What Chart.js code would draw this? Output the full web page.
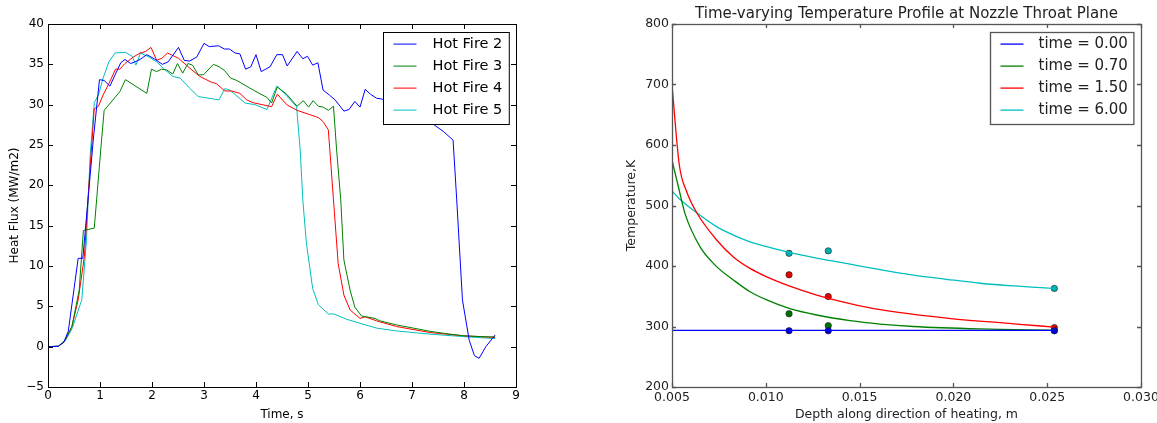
<!DOCTYPE html>
<html>
<head>
<meta charset="utf-8">
<script src="https://cdn.jsdelivr.net/npm/chart.js@4.4.1/dist/chart.umd.min.js"></script>
<style>
  html, body { margin: 0; padding: 0; background: #fff; }
  #wrap { position: relative; width: 1157px; height: 423px; overflow: hidden; }
  canvas { position: absolute; top: 0; }
  #fluxChart { left: 0; }
  #tempChart { left: 578px; }
</style>
</head>
<body>
<div id="wrap">
  <canvas id="fluxChart" width="578" height="423"></canvas>
  <canvas id="tempChart" width="579" height="423"></canvas>
</div>
<script>
// ---- left plot: heat flux of the hot fires ----
const fire2Time = [0, 0.2, 0.3, 0.39, 0.58, 0.67, 0.87, 0.99, 1.08, 1.19, 1.29, 1.40, 1.48, 1.59, 1.67, 1.77, 1.90, 2.04, 2.2, 2.31, 2.51, 2.62, 2.72, 2.86, 3.0, 3.1, 3.28, 3.39, 3.49, 3.6, 3.69, 3.8, 3.9, 4.0, 4.1, 4.27, 4.40, 4.51, 4.6, 4.79, 4.90, 4.99, 5.09, 5.19, 5.29, 5.41, 5.52, 5.69, 5.79, 5.90, 6.0, 6.1, 6.2, 6.32, 6.42, 7.38, 7.6, 7.79, 7.86, 7.97, 8.1, 8.2, 8.29, 8.42, 8.6];
const fire2Flux = [0, 0.05, 0.5, 1.9, 10.95, 10.95, 25.6, 33.1, 33.0, 32.3, 33.7, 35.2, 35.6, 35.1, 35.3, 35.6, 36.2, 35.7, 35.0, 35.3, 37.1, 35.5, 35.4, 35.9, 37.6, 37.2, 37.3, 36.9, 36.9, 36.4, 36.3, 34.4, 34.7, 36.2, 34.1, 34.7, 36.2, 36.2, 34.8, 36.6, 35.7, 36.0, 34.9, 35.2, 31.8, 31.2, 30.6, 29.2, 29.4, 30.4, 29.7, 31.9, 31.3, 30.8, 30.7, 27.7, 26.7, 25.6, 18.2, 5.8, 0.8, -1.1, -1.45, 0.0, 1.45];

const fire3Time = [0, 0.2, 0.33, 0.46, 0.6, 0.68, 0.89, 1.03, 1.08, 1.38, 1.49, 1.90, 1.99, 2.09, 2.18, 2.28, 2.40, 2.49, 2.59, 2.69, 2.78, 2.89, 2.99, 3.18, 3.29, 3.40, 3.51, 3.63, 3.95, 4.21, 4.30, 4.41, 4.59, 4.79, 4.91, 5.01, 5.10, 5.20, 5.29, 5.39, 5.49, 5.55, 5.63, 5.69, 5.81, 5.90, 6.03, 6.29, 6.38, 6.7, 7.03, 7.35, 7.67, 7.99, 8.31, 8.6];
const fire3Flux = [0, 0.05, 0.8, 2.5, 7.0, 14.4, 14.7, 25.6, 29.3, 31.6, 33.1, 31.4, 34.4, 34.1, 34.4, 34.3, 33.8, 35.1, 33.9, 35.1, 34.9, 33.7, 33.7, 35.0, 34.7, 34.2, 33.3, 33.0, 31.8, 30.9, 30.2, 32.2, 31.3, 29.8, 30.5, 29.7, 30.5, 29.8, 29.7, 29.3, 29.8, 24.4, 18.2, 10.75, 7.0, 4.9, 3.8, 3.5, 3.2, 2.7, 2.3, 1.9, 1.6, 1.35, 1.25, 1.2];

const fire4Time = [0, 0.2, 0.33, 0.46, 0.58, 0.70, 0.78, 0.89, 0.97, 1.06, 1.17, 1.30, 1.38, 1.48, 1.64, 1.77, 1.88, 1.98, 2.09, 2.19, 2.30, 2.51, 2.73, 2.92, 3.12, 3.24, 3.40, 3.53, 3.69, 3.82, 3.94, 4.30, 4.41, 4.60, 4.79, 5.20, 5.29, 5.39, 5.42, 5.49, 5.58, 5.69, 5.81, 6.0, 6.1, 6.32, 6.7, 7.35, 7.99, 8.6];
const fire4Flux = [0, 0.05, 0.8, 2.5, 5.8, 11.2, 19.4, 29.5, 29.8, 31.2, 32.6, 34.4, 34.4, 35.1, 35.9, 36.4, 36.6, 37.1, 35.5, 35.75, 36.4, 35.75, 34.5, 33.5, 32.85, 32.6, 31.7, 31.7, 31.4, 30.6, 30.25, 29.75, 31.3, 29.95, 29.3, 28.4, 27.9, 26.9, 24.4, 18.2, 10.3, 6.4, 4.55, 3.5, 3.7, 3.2, 2.5, 1.75, 1.35, 1.15];

const fire5Time = [0, 0.2, 0.33, 0.46, 0.65, 0.74, 0.81, 0.89, 0.97, 1.06, 1.17, 1.29, 1.48, 1.62, 1.69, 1.78, 1.93, 2.09, 2.22, 2.40, 2.54, 2.73, 2.89, 3.29, 3.40, 3.5, 3.79, 3.98, 4.21, 4.40, 4.59, 4.78, 4.85, 4.9, 4.97, 5.09, 5.2, 5.39, 5.5, 5.74, 6.0, 6.32, 6.7, 7.35, 7.99, 8.6];
const fire5Flux = [0, 0.05, 0.7, 2.2, 5.8, 13.2, 23.6, 30.25, 31.2, 33.3, 35.3, 36.4, 36.5, 36.0, 34.9, 36.4, 35.95, 35.3, 34.5, 33.5, 33.3, 32.0, 31.0, 30.6, 32.0, 31.8, 30.2, 30.0, 29.4, 32.3, 31.1, 29.75, 24.4, 18.2, 12.8, 7.2, 5.2, 4.05, 4.05, 3.4, 2.9, 2.3, 1.95, 1.55, 1.25, 1.0];

const fluxTicksX = [0, 1, 2, 3, 4, 5, 6, 7, 8, 9];
const fluxTicksY = [-5, 0, 5, 10, 15, 20, 25, 30, 35, 40];

// ---- right plot: temperature profiles ----
const depth000 = [0.005, 0.02538];
const temp000 = [293.5, 293.5];
const depth070 = [0.005, 0.00534, 0.00569, 0.00649, 0.00738, 0.00827, 0.00916, 0.01005, 0.01124, 0.01271, 0.01449, 0.01609, 0.01786, 0.02142, 0.02538];
const temp070 = [575, 531, 487, 432, 399, 377, 357.5, 344, 330, 319, 309.6, 304, 300, 296, 294];
const depth150 = [0.005, 0.00539, 0.00578, 0.00632, 0.00738, 0.00827, 0.00916, 0.01005, 0.01124, 0.01271, 0.01449, 0.01609, 0.01964, 0.0232, 0.02538];
const temp150 = [699, 567, 523, 488, 443, 415, 396, 382, 367, 352, 338, 328, 314, 304.5, 299];
const depth600 = [0.005, 0.00543, 0.00632, 0.00738, 0.00827, 0.00916, 0.01005, 0.01124, 0.01271, 0.01449, 0.01609, 0.01786, 0.01964, 0.02142, 0.0232, 0.02538];
const temp600 = [524, 510, 488, 465, 451, 440, 432, 422.5, 413, 403, 394, 385, 378, 371.5, 367, 363];

const probeDepth = [0.01124, 0.01333, 0.02538];
const probe000 = [293, 293, 293];
const probe070 = [321, 301.5, 293.5];
const probe150 = [385.5, 349.5, 298];
const probe600 = [421, 425, 363];

const FONT = 'DejaVu Sans';

function pts(xs, ys) {
  return xs.map((x, i) => ({ x: x, y: ys[i] }));
}

// matplotlib-like frame, inward ticks on all sides and boxed legend
const mplFrame = {
  id: 'mplFrame',
  afterDatasetsDraw(chart, args, o) {
    const { ctx, chartArea: a, scales: { x, y } } = chart;
    ctx.save();

    // legend box
    const items = chart.data.datasets.filter(d => d.label);
    ctx.font = o.legendSize + 'px "' + FONT + '"';
    const textW = Math.max(...items.map(d => ctx.measureText(d.label).width));
    const w = o.padL + o.lineLen + o.gap + textW + o.padR;
    const h = 92;
    const bx = Math.round(a.right - 7.5 - w) + 0.5;
    const by = Math.round(a.top + 7.7) + 0.5;
    ctx.fillStyle = '#fff';
    ctx.fillRect(bx, by, w, h);
    ctx.lineWidth = o.width;
    ctx.strokeStyle = o.color;
    ctx.strokeRect(bx, by, w, h);
    ctx.textBaseline = 'middle';
    ctx.textAlign = 'left';
    items.forEach((d, i) => {
      const cy = by + 11.6 + i * 22;
      ctx.beginPath();
      ctx.strokeStyle = d.borderColor;
      ctx.lineWidth = d.borderWidth;
      ctx.moveTo(bx + o.padL, cy);
      ctx.lineTo(bx + o.padL + o.lineLen, cy);
      ctx.stroke();
      ctx.fillStyle = o.textColor;
      ctx.fillText(d.label, bx + o.padL + o.lineLen + o.gap, cy);
    });

    // ticks
    ctx.strokeStyle = o.color;
    ctx.lineWidth = o.width;
    ctx.beginPath();
    x.ticks.forEach(t => {
      const px = Math.round(x.getPixelForValue(t.value)) + 0.5;
      ctx.moveTo(px, a.bottom); ctx.lineTo(px, a.bottom - o.tick);
      ctx.moveTo(px, a.top); ctx.lineTo(px, a.top + o.tick);
    });
    y.ticks.forEach(t => {
      const py = Math.round(y.getPixelForValue(t.value)) + 0.5;
      ctx.moveTo(a.left, py); ctx.lineTo(a.left + o.tick, py);
      ctx.moveTo(a.right, py); ctx.lineTo(a.right - o.tick, py);
    });
    ctx.stroke();

    // frame
    ctx.strokeRect(Math.round(a.left) + 0.5, Math.round(a.top) + 0.5,
      Math.round(a.right - a.left), Math.round(a.bottom - a.top));
    ctx.restore();
  }
};

function fixX(h) {
  return s => { s.height = h; s.paddingLeft = 0; s.paddingRight = 0; };
}
function fixY(w) {
  return s => { s.width = w; s.paddingTop = 0; s.paddingBottom = 0; };
}

function minusSign(v) {
  return v < 0 ? '\u2212' + Math.abs(v) : String(v);
}

new Chart(document.getElementById('fluxChart'), {
  type: 'line',
  data: {
    datasets: [
      { label: 'Hot Fire 2', data: pts(fire2Time, fire2Flux), borderColor: '#0000ff' },
      { label: 'Hot Fire 3', data: pts(fire3Time, fire3Flux), borderColor: '#008000' },
      { label: 'Hot Fire 4', data: pts(fire4Time, fire4Flux), borderColor: '#ff0000' },
      { label: 'Hot Fire 5', data: pts(fire5Time, fire5Flux), borderColor: '#00bfbf' }
    ].map(d => Object.assign(d, { borderWidth: 1, pointRadius: 0, tension: 0, fill: false }))
  },
  options: {
    responsive: false,
    animation: false,
    layout: { padding: { top: 24, right: 62, left: 0, bottom: 0 } },
    plugins: {
      legend: { display: false },
      tooltip: { enabled: false },
      mplFrame: { color: '#000', width: 1, tick: 5, textColor: '#000', legendSize: 14.5, padL: 10, lineLen: 23, gap: 16, padR: 7 }
    },
    scales: {
      x: {
        type: 'linear', min: fluxTicksX[0], max: fluxTicksX[fluxTicksX.length - 1],
        afterBuildTicks: s => { s.ticks = fluxTicksX.map(v => ({ value: v })); },
        ticks: { padding: 2, color: '#000', font: { family: FONT, size: 12 }, autoSkip: false, maxRotation: 0 },
        grid: { display: false, drawTicks: false },
        border: { display: false },
        title: { display: true, text: 'Time, s', color: '#000', font: { family: FONT, size: 12 }, padding: { top: 0, bottom: 1 } },
        afterFit: fixX(36)
      },
      y: {
        type: 'linear', min: fluxTicksY[0], max: fluxTicksY[fluxTicksY.length - 1],
        afterBuildTicks: s => { s.ticks = fluxTicksY.map(v => ({ value: v })); },
        ticks: { padding: 4, color: '#000', font: { family: FONT, size: 12 }, callback: minusSign },
        grid: { display: false, drawTicks: false },
        border: { display: false },
        title: { display: true, text: 'Heat Flux (MW/m2)', color: '#000', font: { family: FONT, size: 12 }, padding: { top: 8, bottom: 0 } },
        afterFit: fixY(48)
      }
    }
  },
  plugins: [mplFrame]
});

const tempTicksX = [0.005, 0.010, 0.015, 0.020, 0.025, 0.030];
const tempTicksY = [200, 300, 400, 500, 600, 700, 800];

function probeSet(ys, color) {
  return { data: pts(probeDepth, ys), showLine: false, pointRadius: 3.2, pointBackgroundColor: color,
    pointBorderColor: '#222', pointBorderWidth: 0.6, borderColor: color };
}

new Chart(document.getElementById('tempChart'), {
  type: 'line',
  data: {
    datasets: [
      { label: 'time = 0.00', data: pts(depth000, temp000), borderColor: '#0000ff' },
      { label: 'time = 0.70', data: pts(depth070, temp070), borderColor: '#008000' },
      { label: 'time = 1.50', data: pts(depth150, temp150), borderColor: '#ff0000' },
      { label: 'time = 6.00', data: pts(depth600, temp600), borderColor: '#00bfbf' }
    ].map(d => Object.assign(d, { borderWidth: 1.3, pointRadius: 0, cubicInterpolationMode: 'monotone', fill: false }))
      .concat([
        probeSet(probe000, '#0000dd'),
        probeSet(probe070, '#007000'),
        probeSet(probe150, '#e00000'),
        probeSet(probe600, '#00b0b0')
      ])
  },
  options: {
    responsive: false,
    animation: false,
    layout: { padding: { top: 0, right: 16, left: 0, bottom: 0 } },
    plugins: {
      legend: { display: false },
      tooltip: { enabled: false },
      title: {
        display: true, fullSize: false,
        text: 'Time-varying Temperature Profile at Nozzle Throat Plane',
        color: '#222', font: { family: FONT, size: 15, weight: 'normal' },
        padding: { top: 5, bottom: 1 }
      },
      mplFrame: { color: '#555', width: 1.3, tick: 4, textColor: '#222', legendSize: 15, padL: 10, lineLen: 23, gap: 15, padR: 6 }
    },
    scales: {
      x: {
        type: 'linear', min: tempTicksX[0], max: tempTicksX[tempTicksX.length - 1],
        afterBuildTicks: s => { s.ticks = tempTicksX.map(v => ({ value: v })); },
        ticks: { padding: 3.5, color: '#222', font: { family: FONT, size: 12.5 }, autoSkip: false, maxRotation: 0,
          callback: v => Number(v).toFixed(3) },
        grid: { display: false, drawTicks: false },
        border: { display: false },
        title: { display: true, text: 'Depth along direction of heating, m', color: '#222', font: { family: FONT, size: 12.5 }, padding: { top: 0, bottom: 0.5 } },
        afterFit: fixX(36)
      },
      y: {
        type: 'linear', min: tempTicksY[0], max: tempTicksY[tempTicksY.length - 1],
        afterBuildTicks: s => { s.ticks = tempTicksY.map(v => ({ value: v })); },
        ticks: { padding: 3, color: '#222', font: { family: FONT, size: 12.5 } },
        grid: { display: false, drawTicks: false },
        border: { display: false },
        title: { display: true, text: 'Temperature,K', color: '#222', font: { family: FONT, size: 12.5 }, padding: { top: 46, bottom: 0 } },
        afterFit: fixY(94)
      }
    }
  },
  plugins: [mplFrame]
});
</script>
</body>
</html>
